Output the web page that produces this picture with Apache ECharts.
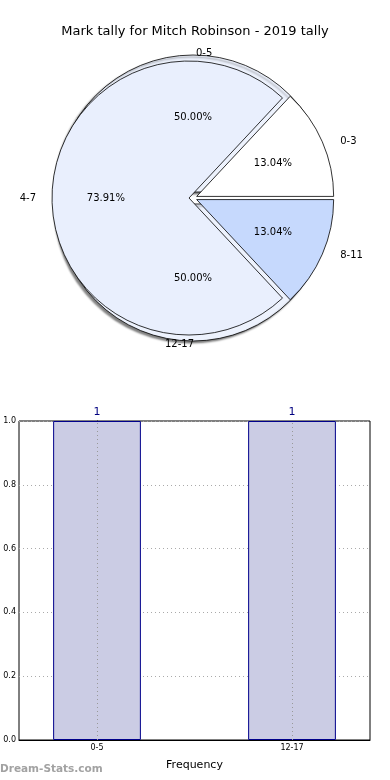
<!DOCTYPE html>
<html>
<head>
<meta charset="utf-8">
<script src="https://cdn.jsdelivr.net/npm/echarts@6/dist/echarts.min.js"></script>
<style>
html,body{margin:0;padding:0;background:#fff;}
#chart{width:390px;height:780px;}
</style>
</head>
<body>
<div id="chart"></div>
<script>
// ---- data ----
const chartTitle = 'Mark tally for Mitch Robinson - 2019 tally';
const tallyNames = ['0-3', '4-7', '8-11'];
const tallyValues = [3, 17, 3];
const bandNames = ['0-5', '12-17'];
const bandValues = [1, 1];
const barCategories = ['0-5', '12-17'];
const barValues = [1, 1];

// ---- styles ----
const FONT = 'DejaVu Sans';
const tallyColors = ['#ffffff', '#e9effd', '#c6d9fd'];
const tallyLabelLen = [14, 11, 14];
const tallyLabelShift = [[0, 5], [0, 0], [0, -4]];
const bandLabelLen = [2, 3];
const bandLabelShift = [[-2, 0], [6, 0]];
const bandColor = '#edf2fd';
const CX = 193, CY = 198, R = 137;

function pct(v, arr) {
  const t = arr.reduce((a, b) => a + b, 0);
  return (v / t * 100).toFixed(2) + '%';
}

const chart = echarts.init(document.getElementById('chart'), null, {renderer: 'canvas'});

const outerLabel = {
  show: true, position: 'outside', color: '#000', fontSize: 10, fontFamily: FONT,
  formatter: p => p.name
};

const option = {
  animation: false,
  title: {
    text: chartTitle, left: 'center', top: 20,
    textStyle: {fontSize: 13, fontWeight: 'normal', fontFamily: FONT, color: '#000'}
  },
  grid: {left: 19, top: 421, width: 351, height: 319, show: true, borderColor: '#000', borderWidth: 1, backgroundColor: 'transparent'},
  xAxis: {
    type: 'value', min: -0.4, max: 1.4,
    name: 'Frequency', nameLocation: 'middle', nameGap: 20,
    nameTextStyle: {fontSize: 11, fontFamily: FONT, color: '#000'},
    axisLine: {show: true, lineStyle: {color: '#000'}},
    axisTick: {show: true, inside: true, length: 4, customValues: barCategories.map((c, i) => i), lineStyle: {color: '#000'}},
    axisLabel: {fontSize: 8, fontFamily: FONT, color: '#000', margin: 4,
      customValues: barCategories.map((c, i) => i),
      formatter: v => barCategories[Math.round(v)] || ''},
    splitLine: {show: false}
  },
  yAxis: {
    type: 'value', min: 0, max: 1, interval: 0.2,
    axisLine: {show: true, lineStyle: {color: '#000'}},
    axisTick: {show: true, inside: true, length: 4, lineStyle: {color: '#000'}},
    axisLabel: {fontSize: 8, fontFamily: FONT, color: '#000', margin: 3, formatter: v => v.toFixed(1)},
    splitLine: {show: true, lineStyle: {type: [1, 3], color: '#aaa', width: 1}}
  },
  graphic: [{
    type: 'text', left: 0, top: 764,
    style: {text: 'Dream-Stats.com', fill: '#a2a2a2', font: 'bold 10.5px "DejaVu Sans"'}
  }],
  series: [
    // back pie (0-5 / 12-17)
    {
      type: 'pie', center: [CX, CY], radius: [0, R],
      startAngle: 0, clockwise: false,
      selectedMode: 'multiple', selectedOffset: 6,
      avoidLabelOverlap: false, silent: true, z: 1,
      itemStyle: {color: bandColor, borderColor: '#000', borderWidth: 0.8,
        shadowColor: 'rgba(0,0,0,0.5)', shadowBlur: 2, shadowOffsetX: -2, shadowOffsetY: 2},
      label: outerLabel,
      labelLayout: p => ({dx: bandLabelShift[p.dataIndex][0], dy: bandLabelShift[p.dataIndex][1]}),
      data: bandNames.map((n, i) => ({name: n, value: bandValues[i], selected: true,
        labelLine: {show: false, length: bandLabelLen[i], length2: 0}}))
    },
    {
      type: 'pie', center: [CX, CY], radius: [R * 0.42, R * 0.62],
      startAngle: 0, clockwise: false,
      selectedMode: 'multiple', selectedOffset: 6,
      avoidLabelOverlap: false, silent: true, z: 5,
      itemStyle: {color: 'rgba(0,0,0,0)', borderWidth: 0},
      label: {show: true, position: 'inside', color: '#000', fontSize: 10, fontFamily: FONT,
        formatter: p => pct(p.value, bandValues)},
      labelLine: {show: false},
      data: bandNames.map((n, i) => ({name: n, value: bandValues[i], selected: true}))
    },
    // front pie (0-3 / 4-7 / 8-11)
    {
      type: 'pie', center: [CX, CY], radius: [0, R],
      startAngle: 0, clockwise: false,
      selectedMode: 'multiple', selectedOffset: 4,
      avoidLabelOverlap: false, silent: true, z: 3,
      itemStyle: {borderColor: '#000', borderWidth: 0.8},
      label: outerLabel,
      labelLayout: p => ({dx: tallyLabelShift[p.dataIndex][0], dy: tallyLabelShift[p.dataIndex][1]}),
      data: tallyNames.map((n, i) => ({name: n, value: tallyValues[i], selected: true,
        itemStyle: {color: tallyColors[i]},
        labelLine: {show: false, length: tallyLabelLen[i], length2: 0}}))
    },
    {
      type: 'pie', center: [CX, CY], radius: [R * 0.485, R * 0.685],
      startAngle: 0, clockwise: false,
      selectedMode: 'multiple', selectedOffset: 4,
      avoidLabelOverlap: false, silent: true, z: 6,
      itemStyle: {color: 'rgba(0,0,0,0)', borderWidth: 0},
      label: {show: true, position: 'inside', color: '#000', fontSize: 10, fontFamily: FONT,
        formatter: p => pct(p.value, tallyValues)},
      labelLine: {show: false},
      data: tallyNames.map((n, i) => ({name: n, value: tallyValues[i], selected: true}))
    },
    // bar chart
    {
      type: 'bar', barWidth: '45%',
      data: barCategories.map((c, i) => [i, barValues[i]]),
      itemStyle: {color: '#cbcce4', borderColor: '#00008b', borderWidth: 1},
      label: {show: true, position: 'top', distance: 3, color: '#000080', fontSize: 11, fontFamily: FONT,
        formatter: p => String(p.value[1])},
      markLine: {
        silent: true, symbol: 'none', label: {show: false},
        lineStyle: {type: [1, 3], color: '#999', width: 1},
        data: barCategories.map((c, i) => ({xAxis: i}))
      }
    }
  ]
};
chart.setOption(option);
</script>
</body>
</html>
